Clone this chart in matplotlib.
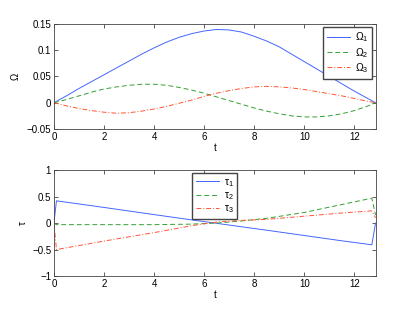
import matplotlib

matplotlib.use("Agg")
import matplotlib.pyplot as plt
import numpy as np

# angular velocity components
t_omega = [0, 0.5, 1, 1.5, 2, 2.5, 3, 3.5, 4, 4.5, 5, 5.5, 6, 6.5, 7, 7.5,
           8, 8.5, 9, 9.5, 10, 10.5, 11, 11.5, 12, 12.5, 12.85]
omega1 = [0, 0.013, 0.027, 0.040, 0.053, 0.066, 0.079, 0.092, 0.104, 0.115,
          0.124, 0.131, 0.136, 0.139, 0.138, 0.134, 0.126, 0.117, 0.106,
          0.092, 0.078, 0.064, 0.050, 0.036, 0.022, 0.009, 0]
omega2 = [0, 0.006, 0.013, 0.020, 0.026, 0.030, 0.033, 0.035, 0.035, 0.033,
          0.029, 0.024, 0.018, 0.011, 0.004, -0.003, -0.010, -0.016, -0.021,
          -0.025, -0.027, -0.027, -0.025, -0.021, -0.015, -0.007, 0]
omega3 = [0, -0.006, -0.011, -0.015, -0.018, -0.020, -0.019, -0.016, -0.012,
          -0.007, -0.001, 0.005, 0.012, 0.018, 0.023, 0.027, 0.030, 0.031,
          0.030, 0.028, 0.025, 0.021, 0.017, 0.013, 0.008, 0.003, 0]

# control torques
t_tau = [0, 0.1, 2, 4, 5.5, 6.5, 7.5, 8.5, 10, 11.5, 12.7, 12.85]
tau1 = [0, 0.42, 0.295, 0.16, 0.06, -0.005, -0.07, -0.135, -0.235, -0.335,
        -0.41, 0.0]
tau2 = [0, -0.03, -0.03, -0.03, -0.02, 0.0, 0.04, 0.09, 0.2, 0.35, 0.47, 0.15]
tau3 = [0, -0.5, -0.34, -0.18, -0.05, 0.02, 0.05, 0.07, 0.13, 0.19, 0.23, 0.1]

omega_labels = [r"$\mathregular{\Omega_1}$", r"$\mathregular{\Omega_2}$",
                r"$\mathregular{\Omega_3}$"]
tau_labels = [r"$\mathregular{\tau_1}$", r"$\mathregular{\tau_2}$",
              r"$\mathregular{\tau_3}$"]

plt.rcParams["font.family"] = ["Liberation Sans", "DejaVu Sans"]
plt.rcParams["font.size"] = 7
plt.rcParams["mathtext.fontset"] = "custom"
plt.rcParams["mathtext.rm"] = "Liberation Sans"

colors = ["#4466ff", "#33a033", "#ff5533"]
styles = ["-", (0, (5, 3)), (0, (5, 2, 1, 2))]

fig = plt.figure(figsize=(4.15, 3.11), dpi=100)
ax1 = fig.add_axes([0.13, 0.585, 0.775, 0.339])
ax2 = fig.add_axes([0.13, 0.1125, 0.775, 0.3405])


def style_axes(ax):
    ax.tick_params(direction="in", top=True, right=True, length=3,
                   width=0.6, color="#444444", labelsize=7, pad=2)
    for s in ax.spines.values():
        s.set_linewidth(0.6)
        s.set_color("#444444")


def add_legend(ax, loc):
    ax.legend(loc=loc, fontsize=7.5, frameon=True, fancybox=False,
              edgecolor="#444444", handlelength=2.2, borderpad=0.35,
              labelspacing=0.15, handletextpad=0.5, borderaxespad=0.3,
              framealpha=1)


for y, c, ls, lab in zip([omega1, omega2, omega3], colors, styles, omega_labels):
    ax1.plot(t_omega, y, color=c, linestyle=ls, linewidth=0.7, label=lab)
ax1.set_xlim(0, t_omega[-1])
ax1.set_ylim(-0.05, 0.15)
ax1.set_yticks([-0.05, 0, 0.05, 0.1, 0.15])
ax1.set_yticklabels(["\u22120.05", "0", "0.05", "0.1", "0.15"])
ax1.set_xticks([0, 2, 4, 6, 8, 10, 12])
ax1.set_xlabel("t", labelpad=1)
ax1.set_ylabel("\u03a9")
ax1.yaxis.set_label_coords(-0.103, 0.5)
add_legend(ax1, "upper right")
style_axes(ax1)

for y, c, ls, lab in zip([tau1, tau2, tau3], colors, styles, tau_labels):
    ax2.plot(t_tau, y, color=c, linestyle=ls, linewidth=0.7, label=lab)
ax2.set_xlim(0, t_tau[-1])
ax2.set_ylim(-1, 1)
ax2.set_yticks([-1, -0.5, 0, 0.5, 1])
ax2.set_yticklabels(["\u22121", "\u22120.5", "0", "0.5", "1"])
ax2.set_xticks([0, 2, 4, 6, 8, 10, 12])
ax2.set_xlabel("t", labelpad=1)
ax2.set_ylabel("\u03c4")
ax2.yaxis.set_label_coords(-0.081, 0.5)
add_legend(ax2, "upper center")
style_axes(ax2)

plt.savefig("out.png", dpi=100)
plt.close(fig)
